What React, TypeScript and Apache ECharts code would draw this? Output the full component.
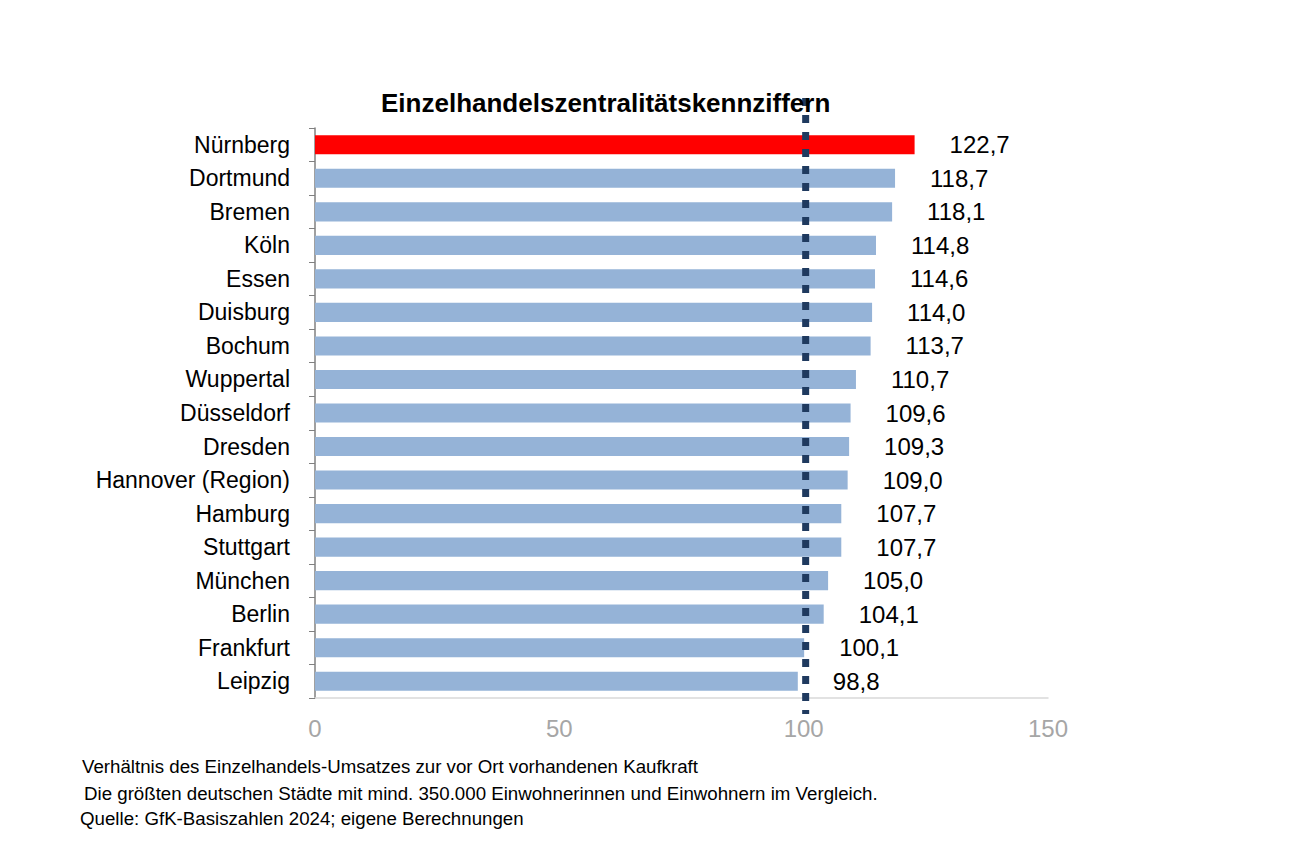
import React, { useEffect, useRef } from "react";
import * as echarts from "echarts";

const categories = [
  "Nürnberg", "Dortmund", "Bremen", "Köln", "Essen", "Duisburg", "Bochum",
  "Wuppertal", "Düsseldorf", "Dresden", "Hannover (Region)", "Hamburg",
  "Stuttgart", "München", "Berlin", "Frankfurt", "Leipzig",
];
const values = [
  122.7, 118.7, 118.1, 114.8, 114.6, 114.0, 113.7, 110.7, 109.6, 109.3,
  109.0, 107.7, 107.7, 105.0, 104.1, 100.1, 98.8,
];
const highlight = "Nürnberg";
const referenceValue = 100;
const xTicks = { min: 0, max: 150, interval: 50 };
const title = "Einzelhandelszentralitätskennziffern";
const notes = [
  "Verhältnis des Einzelhandels-Umsatzes zur vor Ort vorhandenen Kaufkraft",
  "Die größten deutschen Städte mit mind. 350.000 Einwohnerinnen und Einwohnern im Vergleich.",
  "Quelle: GfK-Basiszahlen 2024; eigene Berechnungen",
];

const FONT = "'Liberation Sans', Arial, sans-serif";

export default function App() {
  const ref = useRef<HTMLDivElement>(null);
  useEffect(() => {
    if (!ref.current) return;
    const chart = echarts.init(ref.current, undefined, { renderer: "svg" });
    chart.setOption({
      animation: false,
      backgroundColor: "#ffffff",
      textStyle: { fontFamily: FONT },
      grid: { left: 315, right: 248, top: 128, bottom: 166, containLabel: false },
      title: {
        text: title,
        left: 376,
        top: 85,
        textStyle: { fontFamily: FONT, fontSize: 26, fontWeight: "bold", color: "#000" },
      },
      xAxis: {
        type: "value",
        min: xTicks.min,
        max: xTicks.max,
        interval: xTicks.interval,
        splitLine: { show: false },
        axisLine: { show: true, lineStyle: { color: "#D9D9D9", width: 1.5 } },
        axisTick: { show: false },
        axisLabel: { color: "#A6A6A6", fontSize: 24, margin: 18, fontFamily: FONT },
      },
      yAxis: {
        type: "category",
        data: categories,
        inverse: true,
        axisLine: { show: true, lineStyle: { color: "#808080", width: 1.5 } },
        axisTick: { show: true, length: 6, lineStyle: { color: "#808080" } },
        axisLabel: { color: "#000", fontSize: 23, margin: 25, fontFamily: FONT },
      },
      series: [
        {
          type: "bar",
          barWidth: "57%",
          data: values.map((v, i) => ({
            value: v,
            itemStyle: { color: categories[i] === highlight ? "#FF0000" : "#95B3D7" },
          })),
          label: {
            show: true,
            position: "right",
            distance: 35,
            color: "#000",
            fontSize: 24,
            fontFamily: FONT,
            formatter: (p: any) => Number(p.value).toFixed(1).replace(".", ","),
          },
          z: 2,
        },
        {
          type: "custom",
          data: [[referenceValue, 0]],
          clip: false,
          z: 5,
          renderItem: (params: any, api: any) => {
            const x = api.coord([api.value(0), 0])[0] + 2;
            const cs = params.coordSys;
            return {
              type: "line",
              shape: { x1: x, y1: cs.y - 30, x2: x, y2: cs.y + cs.height + 16 },
              style: { stroke: "#1F3A5F", lineWidth: 7, lineDash: [8, 9] },
            };
          },
        },
      ],
      graphic: notes.map((t, i) => ({
        type: "text",
        left: [82, 84, 80][i],
        top: [757, 784, 809][i],
        style: { text: t, fontSize: 18.7, fontFamily: FONT, fill: "#000" },
      })),
    });
    return () => chart.dispose();
  }, []);
  return (
    <div
      ref={ref}
      style={{ position: "absolute", left: 0, top: 0, width: 1296, height: 864 }}
    />
  );
}
